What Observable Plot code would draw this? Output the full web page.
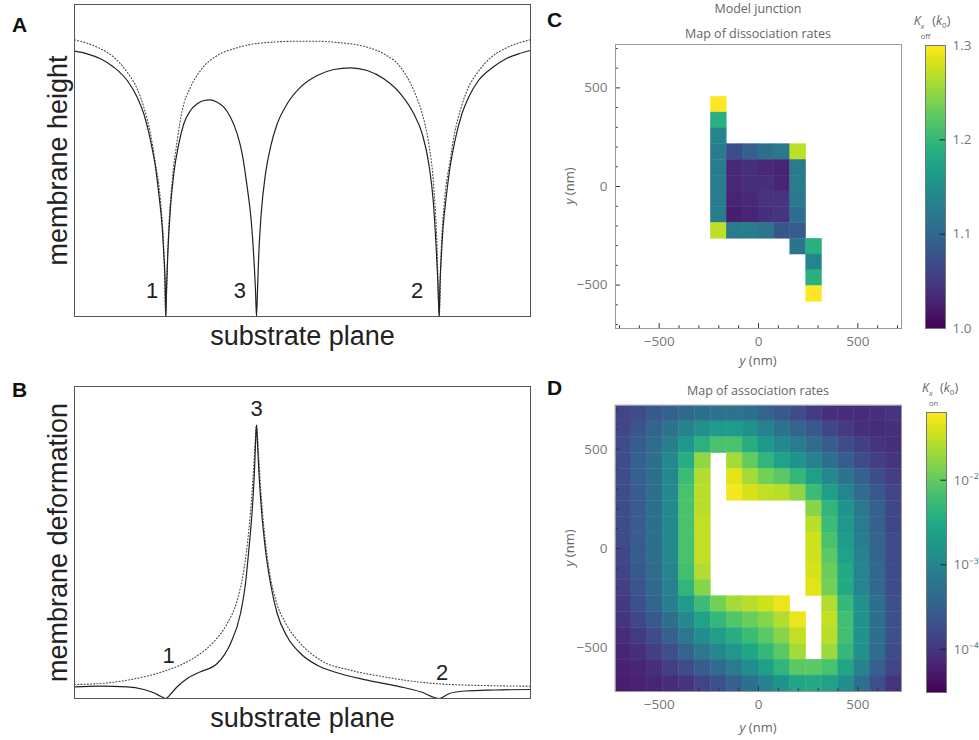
<!DOCTYPE html>
<html><head><meta charset="utf-8">
<script src="https://cdn.jsdelivr.net/npm/d3@7"></script>
<script src="https://cdn.jsdelivr.net/npm/@observablehq/plot@0.6"></script>
<style>
body{margin:0;background:#fff;}
#fig{position:relative;width:979px;height:740px;overflow:hidden;background:#fff;font-family:"Liberation Sans",Arial,sans-serif;}
#fig svg{position:absolute;overflow:visible;background:transparent;}
.pl{position:absolute;font:bold 21px/1 "Liberation Sans",Arial,sans-serif;color:#111;}
.t{position:absolute;font-family:"Open Sans",sans-serif;color:#666;white-space:nowrap;line-height:1.2;}
.kx{display:inline-flex;flex-direction:column;align-items:flex-start;font-size:7.5px;line-height:1.3;vertical-align:-4px;margin:0 2px 0 0;}
</style></head><body><div id="fig"></div>
<script>
// ---------- Panel A : membrane height (solid) and reference (dotted) ----------
const substrateSolidA = [0,12.7,26,39.3,52.7,62.7,69.3,76,81,84.3,87.7,89.3,90.7,91.3,92,93.3,96,99.3,104.3,109.3,116,122.7,129.3,135.3,142.7,149.3,156,162.7,167.7,172.7,176.7,179.3,181,182,183,184.3,186.7,191,196,202.7,212.7,226,242.7,259.3,276,292.7,309.3,326,339.3,347.7,354.3,358.7,361.3,363.3,364.7,365.4,366.8,368.5,372,375.5,380.5,387.5,394,404,418,432,445,456];
const heightSolidA = [265.3,262.7,257.7,249.3,236,219.3,202.7,176,149.3,122.7,89.3,62.7,32.7,0,26,62.7,109.3,142.7,172.7,192.7,206,212.7,216,216.7,214.3,209.3,199.3,182.7,162.7,129.3,96,59.3,26,0,26,62.7,102.7,142.7,169.3,192.7,212.7,229.3,241,247,248.7,246,237.7,222.7,202.7,182.7,152.7,116,76,36,0,30,60,88,122,149,176,203,219,236,249,258,263,266];
const substrateDottedA = [0,12.7,26,39.3,52.7,62.7,69.3,76,81,86,89.3,91.3,92.7,94.3,97.7,102.7,107.7,116,126,142.7,159.3,176,192.7,226,242.7,259.3,292.7,309.3,326,339.3,347.7,354.3,359.3,362.7,364.7,366.7,370,375,380,386.7,393.3,403.3,416.7,430,443.3,456];
const heightDottedA = [276.7,273.3,267.7,259.3,244.3,227.7,209.3,182.7,152.7,116,66,0,49.3,89.3,136,176,206,229.3,246,261,267.7,272,274,275.3,275.3,274.3,269.3,262.7,249.3,226,202.7,172.7,129.3,66,0,66,116,152.7,182.7,209.3,227.7,244.3,259.3,267.7,273.3,276.7];

// ---------- Panel B : membrane deformation ----------
const substrateSolidB = [0,26,52.7,69.3,79.3,86,91.3,96,102.7,112.7,126,142.7,156,166,171,174.3,177.7,180,181.3,182,182.7,184.3,187,191,196,202.7,212.7,226,242.7,259.3,292.7,326,346,364.7,375,390,420,456];
const deformSolidB = [11.7,12.3,11.7,9,5.7,2.3,0,4.3,11.7,20,26.7,35,55,85,115,148.3,188.3,228.3,261.7,273.3,261.7,228.3,188.3,148.3,115,85,61.7,45,33.3,26.7,18.3,11.7,6.7,0,5,7.5,8.5,9];
const substrateDottedB = [0,26,52.7,76,92.7,109.3,126,139.3,152.7,162.7,169.3,174.3,177.7,180,182,184,186.3,189.7,194.7,201.3,211.3,226,246,276,309.3,342.7,376,456];
const deformDottedB = [14,15,18.3,23.3,28.3,35,45,56.7,75,98.3,128.3,168.3,208.3,245,273.3,245,208.3,168.3,128.3,98.3,75,55,38.3,28.3,21.7,16.7,14,12.3];

const junctionLabels = ["1","3","2"];
const labelXA = [77.7,165.3,342.7], labelYA = [26,26,26];
const labelXB = [94,182,367.7],   labelYB = [43,290,26];

// ---------- Panel C : dissociation rates (k0 units) ----------
const offColsX = [-200,-120,-40,40,120,200,280];
const offRowsY = [415,335,255,175,95,15,-65,-145,-225,-305,-385,-465,-545];
const offRates = [
  [1.30,null,null,null,null,null,null],
  [1.19,null,null,null,null,null,null],
  [1.135,null,null,null,null,null,null],
  [1.125,1.07,1.09,1.11,1.12,1.27,null],
  [1.125,1.035,1.04,1.035,1.03,1.125,null],
  [1.125,1.035,1.04,1.04,1.03,1.125,null],
  [1.125,1.03,1.035,1.045,1.045,1.12,null],
  [1.125,1.025,1.03,1.04,1.045,1.11,null],
  [1.27,1.125,1.125,1.117,1.08,1.085,null],
  [null,null,null,null,null,1.115,1.19],
  [null,null,null,null,null,null,1.135],
  [null,null,null,null,null,null,1.19],
  [null,null,null,null,null,null,1.30]
];

// ---------- Panel D : association rates (log10 of k0 units) ----------
const onCentersX = [-680,-600,-520,-440,-360,-280,-200,-120,-40,40,120,200,280,360,440,520,600,680];
const onCentersY = [680,600,520,440,360,280,200,120,40,-40,-120,-200,-280,-360,-440,-520,-600,-680];
const onRatesLog10 = [
  [-3.85,-3.75,-3.6,-3.5,-3.4,-3.3,-3.25,-3.25,-3.3,-3.45,-3.6,-3.75,-3.95,-4.05,-4.1,-4.1,-4.05,-4.0],
  [-3.8,-3.65,-3.45,-3.25,-3.05,-2.85,-2.7,-2.7,-2.85,-3.05,-3.25,-3.45,-3.6,-3.8,-3.95,-4.05,-4.1,-4.05],
  [-3.75,-3.55,-3.35,-3.1,-2.75,-2.4,-2.15,-2.15,-2.45,-2.75,-2.95,-3.15,-3.35,-3.55,-3.75,-3.9,-4.0,-4.05],
  [-3.75,-3.5,-3.3,-2.95,-2.45,-1.75,null,-1.65,-2.0,-2.35,-2.6,-2.8,-3.05,-3.3,-3.55,-3.75,-3.9,-4.0],
  [-3.75,-3.5,-3.3,-2.95,-2.25,-1.6,null,-1.35,-1.65,-1.9,-2.05,-2.3,-2.65,-2.95,-3.25,-3.5,-3.75,-3.9],
  [-3.75,-3.55,-3.3,-2.95,-2.15,-1.55,null,-1.25,-1.4,-1.5,-1.55,-1.75,-2.25,-2.65,-3.0,-3.35,-3.6,-3.85],
  [-3.75,-3.55,-3.3,-2.95,-2.15,-1.55,null,null,null,null,null,null,-1.8,-2.35,-2.8,-3.2,-3.5,-3.8],
  [-3.75,-3.55,-3.3,-2.95,-2.15,-1.5,null,null,null,null,null,null,-1.55,-2.25,-2.75,-3.15,-3.5,-3.8],
  [-3.75,-3.55,-3.3,-2.95,-2.15,-1.5,null,null,null,null,null,null,-1.45,-2.15,-2.7,-3.1,-3.45,-3.75],
  [-3.8,-3.55,-3.3,-2.95,-2.15,-1.5,null,null,null,null,null,null,-1.45,-2.05,-2.6,-3.05,-3.45,-3.75],
  [-3.85,-3.6,-3.35,-3.0,-2.2,-1.6,null,null,null,null,null,null,-1.4,-1.95,-2.5,-3.0,-3.4,-3.75],
  [-3.9,-3.65,-3.4,-3.05,-2.35,-1.8,null,null,null,null,null,null,-1.35,-1.9,-2.5,-3.0,-3.4,-3.75],
  [-3.95,-3.7,-3.45,-3.1,-2.7,-2.25,-1.9,-1.65,-1.55,-1.45,-1.3,null,null,-1.6,-2.3,-2.85,-3.3,-3.7],
  [-4.0,-3.8,-3.6,-3.3,-2.95,-2.6,-2.3,-2.1,-1.95,-1.8,-1.6,-1.3,null,-1.5,-2.2,-2.8,-3.3,-3.7],
  [-4.1,-3.95,-3.75,-3.5,-3.2,-2.9,-2.65,-2.45,-2.25,-2.05,-1.8,-1.5,null,-1.55,-2.2,-2.8,-3.3,-3.7],
  [-4.15,-4.05,-3.9,-3.7,-3.45,-3.2,-2.95,-2.75,-2.55,-2.3,-2.05,-1.65,null,-1.7,-2.3,-2.85,-3.35,-3.75],
  [-4.2,-4.15,-4.05,-3.9,-3.75,-3.55,-3.35,-3.15,-2.9,-2.65,-2.35,-2.05,-2.05,-2.15,-2.55,-3.05,-3.5,-3.85],
  [-4.25,-4.2,-4.15,-4.1,-4.0,-3.85,-3.7,-3.5,-3.3,-3.05,-2.8,-2.55,-2.5,-2.6,-2.9,-3.3,-3.7,-4.0]
];

const mapExtent = [-720, 720];
const cellSize = 80;
const majorTicks = [-500, 0, 500];
const minorTicks = [-700,-600,-400,-300,-200,-100,100,200,300,400,600,700];
const offDomain = [1.0, 1.3];
const offBarTicks = [1.0, 1.1, 1.2, 1.3];
const onDomain = [-4.51, -1.2];
const onBarTicks = [-4, -3, -2];
const axisTitles = {A: ["membrane height", "substrate plane"], B: ["membrane deformation", "substrate plane"]};

// ---------- helpers ----------
const fig = document.getElementById("fig");
function put(el, left, top) { el.style.left = left + "px"; el.style.top = top + "px"; fig.appendChild(el); return el; }
function html(cls, content, css) { const d = document.createElement("div"); d.className = cls; d.innerHTML = content; d.style.cssText += css; fig.appendChild(d); return d; }
const minus = d => d < 0 ? "\u2212" + Math.abs(d) : String(d);
const sup = {"-":"\u207B","2":"\u00B2","3":"\u00B3","4":"\u2074","1":"\u00B9","0":"\u2070"};
const pow10 = d => "10" + String(d).split("").map(c => sup[c]).join("");

function profilePlot(sx, sy, dx, dy, lx, ly, titles, yDomain, mTop, mBottom, h) {
  return Plot.plot({
    width: 560, height: h,
    marginLeft: 74, marginRight: 30, marginTop: mTop, marginBottom: mBottom,
    x: {domain: [0, 456], axis: null},
    y: {domain: yDomain, axis: null},
    style: {fontFamily: "'Liberation Sans', Arial, sans-serif", background: "transparent"},
    marks: [
      Plot.line(dx, {x: d => d, y: (d, i) => dy[i], stroke: "#444", strokeWidth: 1.1, strokeDasharray: "1,2.2", curve: "monotone-x"}),
      Plot.line(sx, {x: d => d, y: (d, i) => sy[i], stroke: "#222", strokeWidth: 1.2, curve: "monotone-x"}),
      Plot.frame({stroke: "#555", strokeWidth: 1}),
      Plot.text(junctionLabels, {x: (d, i) => lx[i], y: (d, i) => ly[i], text: d => d, fontSize: 22, fill: "#222"}),
      Plot.text([titles[1]], {text: d => d, frameAnchor: "bottom", lineAnchor: "top", dy: 9, fontSize: 27, fill: "#222"}),
      Plot.text([titles[0]], {text: d => d, frameAnchor: "left", textAnchor: "middle", rotate: -90, lineAnchor: "bottom", dx: -8, fontSize: 27, fill: "#222"})
    ]
  });
}

function mapPlot(rects, domain, mTop, mBottom) {
  return Plot.plot({
    width: 360, height: 370,
    marginLeft: 55, marginRight: 19, marginTop: mTop, marginBottom: mBottom,
    x: {domain: mapExtent},
    y: {domain: mapExtent},
    color: {type: "linear", scheme: "viridis", domain},
    style: {fontFamily: "'Open Sans', sans-serif", fontSize: "13.5px", color: "#777", background: "transparent"},
    marks: [
      Plot.rect(rects, {x1: d => d.x - cellSize / 2, x2: d => d.x + cellSize / 2, y1: d => d.y - cellSize / 2, y2: d => d.y + cellSize / 2, fill: "v", stroke: "v", strokeWidth: 0.4}),
      Plot.ruleX(majorTicks, {y1: mapExtent[0], y2: mapExtent[0] + 25, stroke: "#333"}),
      Plot.ruleX(minorTicks, {y1: mapExtent[0], y2: mapExtent[0] + 14, stroke: "#333"}),
      Plot.ruleY(majorTicks, {x1: mapExtent[0], x2: mapExtent[0] + 25, stroke: "#333"}),
      Plot.ruleY(minorTicks, {x1: mapExtent[0], x2: mapExtent[0] + 14, stroke: "#333"}),
      Plot.frame({stroke: "#999"}),
      Plot.axisX({ticks: majorTicks, tickSize: 0, tickPadding: 8, tickFormat: minus, label: null}),
      Plot.axisY({ticks: majorTicks, tickSize: 0, tickPadding: 8, tickFormat: minus, label: null})
    ]
  });
}

function barPlot(domain, ticks, fmt, mTop, mBottom, mLeft) {
  return Plot.plot({
    width: 74, height: 370,
    marginLeft: mLeft, marginRight: 74 - mLeft - 20, marginTop: mTop, marginBottom: mBottom,
    x: {domain: [0, 1], axis: null},
    y: {domain},
    color: {type: "linear", scheme: "viridis", domain},
    style: {fontFamily: "'Open Sans', sans-serif", fontSize: "13.5px", color: "#777", background: "transparent"},
    marks: [
      Plot.raster({fill: (x, y) => y, x1: 0, x2: 1, y1: domain[0], y2: domain[1], pixelSize: 1}),
      Plot.ruleY(ticks.filter(t => t > domain[0] && t < domain[1]), {x1: 0.72, x2: 1, stroke: "#222"}),
      Plot.frame({stroke: "#777"}),
      Plot.axisY({anchor: "right", ticks, tickSize: 0, tickPadding: 7, tickFormat: fmt, label: null})
    ]
  });
}

// ---------- build data tables ----------
const offCells = [];
offRates.forEach((row, r) => row.forEach((v, c) => { if (v != null) offCells.push({x: offColsX[c], y: offRowsY[r], v}); }));
const onCells = [];
onRatesLog10.forEach((row, r) => row.forEach((v, c) => { if (v != null) onCells.push({x: onCentersX[c], y: onCentersY[r], v}); }));

// ---------- draw ----------
put(profilePlot(substrateSolidA, heightSolidA, substrateDottedA, heightDottedA, labelXA, labelYA, axisTitles.A, [0, 312], 4, 49, 365), 0, 0);
put(profilePlot(substrateSolidB, deformSolidB, substrateDottedB, deformDottedB, labelXB, labelYB, axisTitles.B, [0, 312], 16, 42, 370), 0, 370);
put(mapPlot(offCells, offDomain, 44, 42), 560, 0);
put(mapPlot(onCells, onDomain, 35, 49), 560, 370);
put(barPlot(offDomain, offBarTicks, d3.format(".1f"), 45, 42, 20), 905, 0);
put(barPlot(onDomain, onBarTicks, pow10, 42, 48, 21), 905, 370);

// ---------- panel letters and titles ----------
html("pl", "A", "left:12px;top:14px;");
html("pl", "B", "left:12px;top:379px;");
html("pl", "C", "left:547px;top:9px;");
html("pl", "D", "left:547px;top:377px;");
html("t", "Model junction", "left:615px;width:286px;text-align:center;top:1px;font-size:12.5px;");
html("t", "Map of dissociation rates", "left:615px;width:286px;text-align:center;top:26px;font-size:12.5px;");
html("t", "Map of association rates", "left:615px;width:286px;text-align:center;top:383px;font-size:12.5px;");
html("t", "<i>y</i> (nm)", "left:615px;width:286px;text-align:center;top:353px;font-size:13px;");
html("t", "<i>y</i> (nm)", "left:615px;width:286px;text-align:center;top:720px;font-size:13px;");
html("t", "<i>y</i> (nm)", "left:570px;top:186px;font-size:13px;transform:translate(-50%,-50%) rotate(-90deg);");
html("t", "<i>y</i> (nm)", "left:570px;top:548px;font-size:13px;transform:translate(-50%,-50%) rotate(-90deg);");
html("t", "<i>K</i><span class='kx'><i>x</i><span>off</span></span>(<i>k</i><sub style='font-size:8px;line-height:1'>0</sub>)", "left:932px;top:27px;font-size:12.5px;transform:translate(-50%,-50%);");
html("t", "<i>K</i><span class='kx'><i>x</i><span>on</span></span>(<i>k</i><sub style='font-size:8px;line-height:1'>0</sub>)", "left:940px;top:394px;font-size:12.5px;transform:translate(-50%,-50%);");
</script></body></html>
